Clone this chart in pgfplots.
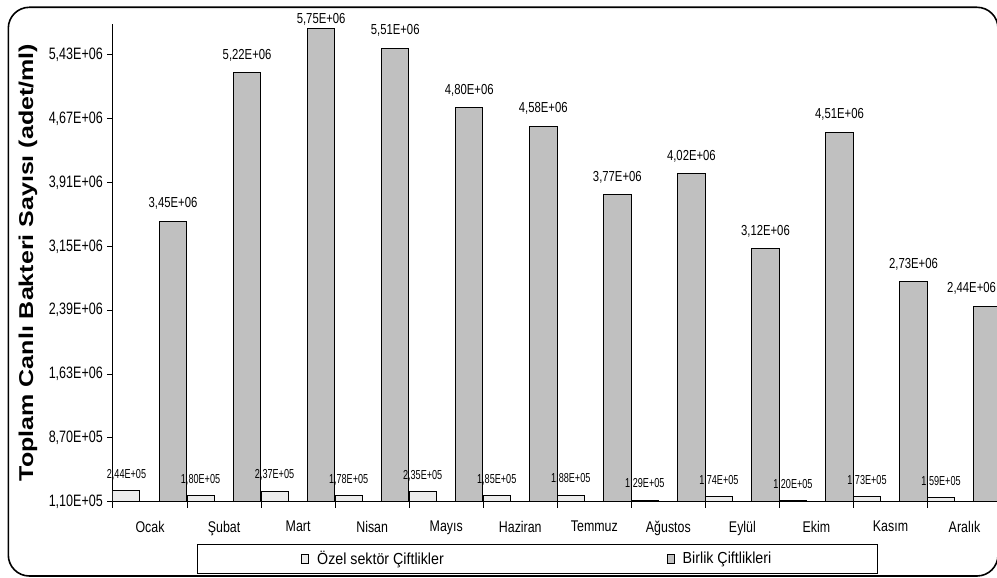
\documentclass[border=0pt]{standalone}
\usepackage{fontspec}
\setmainfont{Liberation Sans}
\usepackage{graphicx}
\usepackage{pgfplots}
\usepackage{pgfplotstable}
\pgfplotsset{compat=1.18}
\newcommand\hx[2][0.76]{\scalebox{#1}[1]{#2}}
\definecolor{barg}{RGB}{192,192,192}
\definecolor{ozelf}{RGB}{236,236,236}
\pgfplotsset{sqlegend/.style={legend image code/.code={\draw[##1, line width=0.8pt] (0pt,-4.5pt) rectangle (7pt,4.5pt); \path (13pt,0pt);}}}

\pgfplotstableread{
x y lab dx dy
0.182 244000 2,44E+05 0 10
1.182 180000 1,80E+05 0 10
2.182 237000 2,37E+05 0 10
3.182 178000 1,78E+05 0 10
4.182 235000 2,35E+05 0 10
5.182 185000 1,85E+05 0 10
6.182 188000 1,88E+05 0 10
7.182 129000 1,29E+05 0 10
8.182 174000 1,74E+05 0 10
9.182 120000 1,20E+05 0 10
10.182 173000 1,73E+05 0 10
11.182 159000 1,59E+05 0 10
}\ozel

\pgfplotstableread{
x y lab dx dy
0.811 3450000 3,45E+06 0 11
1.811 5220000 5,22E+06 0 11
2.811 5750000 5,75E+06 0 2
3.811 5510000 5,51E+06 0 11
4.811 4800000 4,80E+06 0 11
5.811 4580000 4,58E+06 0 11
6.811 3770000 3,77E+06 0 11
7.811 4020000 4,02E+06 0 11
8.811 3120000 3,12E+06 0 11
9.811 4510000 4,51E+06 0 11
10.811 2730000 2,73E+06 0 11
11.811 2440000 2,44E+06 -16 11
}\birlik

\begin{document}
\begin{tikzpicture}
\path[use as bounding box] (0pt,0pt) rectangle (997pt,578pt);
\clip (0pt,0pt) rectangle (997pt,578pt);
\draw[line width=1.6pt, rounded corners=21pt] (8.3pt,2pt) rectangle (998pt,570.7pt);
\begin{axis}[
  at={(113pt,76.3pt)}, anchor=south west,
  scale only axis, width=888.6pt, height=477.7pt,
  xmin=0, xmax=12, ymin=110000, ymax=5799000,
  axis x line*=bottom, axis y line*=left,
  axis line style={line width=1pt, -},
  tick align=outside,
  xtick={0.5,1.5,...,11.5},
  xticklabels={\hx[0.8]{Ocak},\hx[0.8]{Şubat},\hx[0.8]{Mart},\hx[0.8]{Nisan},\hx[0.8]{Mayıs},\hx[0.8]{Haziran},\hx[0.8]{Temmuz},\hx[0.8]{Ağustos},\hx[0.8]{Eylül},\hx[0.8]{Ekim},\hx[0.8]{Kasım},\hx[0.8]{Aralık}},
  minor xtick={0,1,...,12},
  major x tick style={draw=none},
  minor x tick style={black, line width=1pt},
  ytick={110000,870000,1630000,2390000,3150000,3910000,4670000,5430000},
  yticklabels={\hx{1,10E+05},\hx{8,70E+05},\hx{1,63E+06},\hx{2,39E+06},\hx{3,15E+06},\hx{3,91E+06},\hx{4,67E+06},\hx{5,43E+06}},
  scaled y ticks=false,
  major y tick style={black, line width=1pt},
  major tick length=6pt, minor tick length=6pt,
  xticklabel style={font=\fontsize{15.5}{18}\selectfont, inner sep=0pt, anchor=north, yshift=-13pt},
  yticklabel style={font=\fontsize{16.5}{19}\selectfont, inner sep=0pt, xshift=-4pt},
  ylabel={\scalebox{1}[0.8]{Toplam Canlı Bakteri Sayısı (adet/ml)}},
  every axis y label/.style={at={(axis description cs:-0.0957,0.5007)}, rotate=90, anchor=center, font=\bfseries\fontsize{25}{30}\selectfont},
  legend columns=2,
  legend style={at={(axis description cs:0.4775,-0.1195)}, anchor=center, draw=black, line width=1pt,
    inner xsep=104pt, inner ysep=5pt, font=\fontsize{16}{19}\selectfont,
    /tikz/every even column/.append style={column sep=221pt}},
]
\addplot[ybar, bar width=0.365, bar shift=0pt, fill=ozelf, draw=black, line width=1pt,
  sqlegend,
  point meta=explicit symbolic,
  visualization depends on={\thisrow{dx} \as \dx},
  visualization depends on={\thisrow{dy} \as \dy},
  nodes near coords={\hx[0.7]{\pgfplotspointmeta}},
  every node near coord/.append style={font=\fontsize{13}{15}\selectfont, inner sep=0pt, anchor=south, xshift=\dx pt, yshift=\dy pt}]
  table[x=x, y=y, meta=lab]{\ozel};
\addlegendentry{\hx[0.89]{Özel sektör Çiftlikler}}
\addplot[ybar, bar width=0.37, bar shift=0pt, fill=barg, draw=black, line width=1pt,
  sqlegend,
  point meta=explicit symbolic,
  visualization depends on={\thisrow{dx} \as \dx},
  visualization depends on={\thisrow{dy} \as \dy},
  nodes near coords={\hx[0.78]{\pgfplotspointmeta}},
  every node near coord/.append style={font=\fontsize{14.5}{16}\selectfont, inner sep=0pt, anchor=south, xshift=\dx pt, yshift=\dy pt}]
  table[x=x, y=y, meta=lab]{\birlik};
\addlegendentry{\hx[0.89]{Birlik Çiftlikleri}}
\end{axis}
\end{tikzpicture}
\end{document}
